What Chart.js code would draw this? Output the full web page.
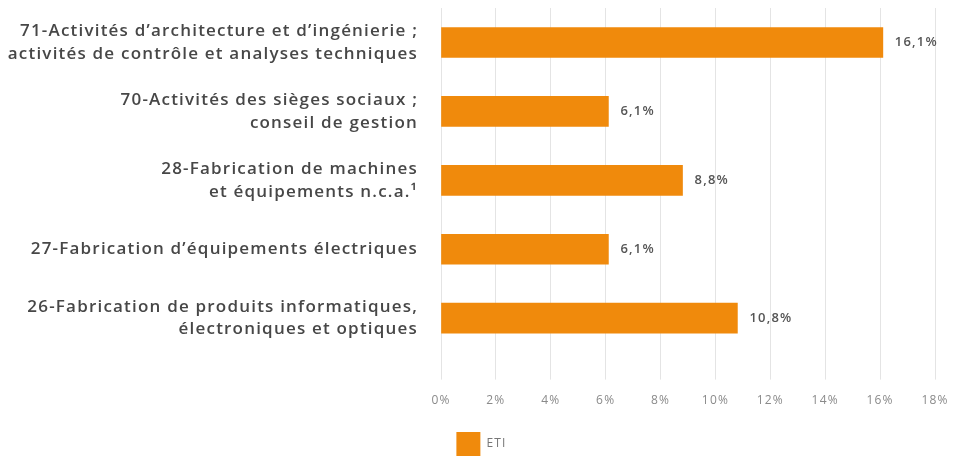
<!DOCTYPE html>
<html lang="fr">
<head>
<meta charset="utf-8">
<script src="https://cdn.jsdelivr.net/npm/chart.js@4"></script>
<style>
    html, body { margin: 0; padding: 0; background: #fff; overflow: hidden; }
    #wrap { width: 953px; height: 466px; position: relative; }
</style>
</head>
<body>
<div id="wrap"><canvas id="etiChart"></canvas></div>
<script>

    /* ===============================
       données
    =============================== */

    const categories = [
        ["71-Activités d’architecture et d’ingénierie ;", "activités de contrôle et analyses techniques"],
        ["70-Activités des sièges sociaux ;", "conseil de gestion"],
        ["28-Fabrication de machines", "et équipements n.c.a.¹"],
        ["27-Fabrication d’équipements électriques"],
        ["26-Fabrication de produits informatiques,", "électroniques et optiques"]
    ];

    const etiValues = [16.1, 6.1, 8.8, 6.1, 10.8];

    const xTicks = [0, 2, 4, 6, 8, 10, 12, 14, 16, 18];

    const seriesName = "ETI";



    /* ===============================
       espacement des lettres + légende décalée
    =============================== */

    const spacing = {
        id: "spacing",
        beforeLayout(chart) { chart.ctx.letterSpacing = "1.2px"; },
        afterLayout(chart) { chart.legend.left += 28; },
        beforeDraw(chart) { chart.ctx.letterSpacing = "1.2px"; }
    };



    /* ===============================
       étiquettes de valeur
    =============================== */

    const valueLabels = {
        id: "valueLabels",
        afterDatasetsDraw(chart) {
            const ctx = chart.ctx;
            const meta = chart.getDatasetMeta(0);
            ctx.save();
            ctx.font = "600 13px 'Open Sans'";
            ctx.fillStyle = "#555";
            ctx.textAlign = "left";
            ctx.textBaseline = "middle";
            meta.data.forEach((bar, i) => {
                const txt = etiValues[i].toFixed(1).replace(".", ",") + "%";
                ctx.fillText(txt, bar.x + 12, bar.y);
            });
            ctx.restore();
        }
    };



    /* ===============================
       graphique
    =============================== */

    const ctx = document.getElementById("etiChart").getContext("2d");

    new Chart(ctx, {
        type: "bar",
        data: {
            labels: categories,
            datasets: [{
                label: seriesName,
                data: etiValues,
                backgroundColor: "#f08a0c",
                borderWidth: 0,
                barThickness: 30
            }]
        },
        options: {
            indexAxis: "y",
            responsive: true,
            maintainAspectRatio: false,
            animation: false,
            layout: { padding: { top: 8, right: 18, left: 0, bottom: 0 } },
            scales: {
                x: {
                    min: xTicks[0],
                    max: xTicks[xTicks.length - 1],
                    afterBuildTicks(scale) {
                        scale.ticks = xTicks.map(v => ({ value: v }));
                    },
                    afterFit(scale) {
                        scale.paddingLeft = 0;
                        scale.paddingRight = 0;
                    },
                    grid: { color: "#e4e4e4", tickLength: 27, lineWidth: 1 },
                    border: { display: false },
                    ticks: {
                        padding: 14,
                        color: "#8a8a8a",
                        font: { family: "'Open Sans'", size: 12 },
                        callback: v => v + "%"
                    }
                },
                y: {
                    grid: { display: false },
                    border: { display: false },
                    afterFit(scale) {
                        scale.width = 441;
                        scale.paddingTop = 0;
                        scale.paddingBottom = 0;
                    },
                    ticks: {
                        padding: 15,
                        color: "#474747",
                        font: { family: "'Open Sans'", size: 17, weight: "600", lineHeight: 1.35 }
                    }
                }
            },
            plugins: {
                legend: {
                    position: "bottom",
                    labels: {
                        boxWidth: 24,
                        boxHeight: 24,
                        padding: 10,
                        color: "#777",
                        font: { family: "'Open Sans'", size: 12 }
                    }
                },
                tooltip: { enabled: false }
            }
        },
        plugins: [spacing, valueLabels]
    });

</script>
</body>
</html>
